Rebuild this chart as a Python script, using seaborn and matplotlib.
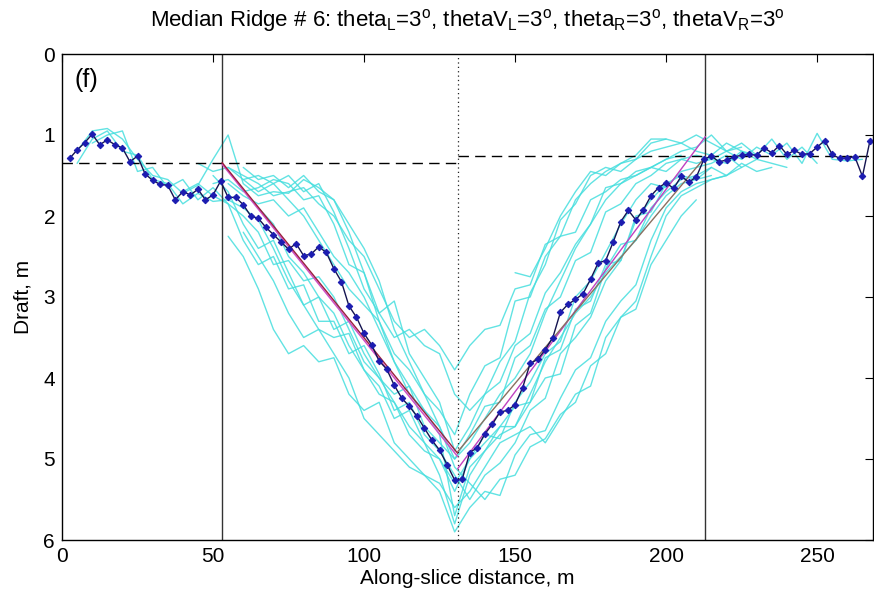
import numpy as np
import pandas as pd
import matplotlib
matplotlib.use("Agg")
import matplotlib.pyplot as plt
import seaborn as sns

# ---------------- data ----------------
median_x0 = 2.5
median_step = 2.5
median_draft = [
    1.29, 1.185, 1.095, 0.99, 1.12, 1.06, 1.12, 1.16, 1.33, 1.26,
    1.48, 1.56, 1.61, 1.62, 1.80, 1.70, 1.74, 1.67, 1.80, 1.74,
    1.57, 1.77, 1.77, 1.86, 2.00, 2.03, 2.14, 2.23, 2.32, 2.41,
    2.34, 2.49, 2.47, 2.38, 2.45, 2.65, 2.81, 3.11, 3.25, 3.45,
    3.59, 3.79, 3.89, 4.09, 4.25, 4.35, 4.47, 4.62, 4.77, 4.89,
    5.07, 5.26, 5.25, 4.92, 4.86, 4.69, 4.57, 4.42, 4.40, 4.33,
    4.12, 3.82, 3.77, 3.65, 3.50, 3.19, 3.09, 3.03, 2.96, 2.78,
    2.58, 2.55, 2.32, 2.07, 1.93, 2.05, 1.92, 1.75, 1.65, 1.59,
    1.66, 1.51, 1.58, 1.52, 1.30, 1.26, 1.33, 1.31, 1.27, 1.25,
    1.24, 1.25, 1.16, 1.22, 1.13, 1.24, 1.19, 1.24, 1.23, 1.15,
    1.07, 1.24, 1.29, 1.28, 1.27, 1.51, 1.07,
]

cyan_step = 5.0
cyan_starts = [5, 5, 10, 45, 55, 50, 50, 55, 55, 60, 60, 65, 215, 150, 40, 60]
cyan_1 = [1.20, 0.95, 0.92, 1.05, 1.30, 1.50, 1.55, 1.72, 1.62, 1.30, 1.00, 1.60, 1.75, 1.70,
          1.72, 1.55, 1.65, 1.80, 2.20, 2.70, 3.20, 3.05, 3.70, 4.00, 4.30, 4.90, 4.60, 4.20,
          4.05, 3.60, 3.45, 2.95, 2.70, 2.35, 2.10, 1.65, 1.60, 1.45, 1.40, 1.30, 1.20, 1.15,
          1.00, 1.20, 1.30, 1.15, 1.25, 1.10, 1.35, 0.98, 1.30, 1.32, 1.30]
cyan_2 = [1.35, 1.05, 0.95, 1.20, 1.25, 1.55, 1.60, 1.85, 1.72, 1.82, 1.80, 1.90, 2.05, 2.40,
          2.80, 3.10, 3.40, 3.50, 3.45, 3.90, 4.10, 4.50, 4.40, 4.80, 5.00, 5.40, 5.00, 4.70,
          4.75, 4.30, 4.05, 3.70, 3.55, 3.00, 2.80, 2.45, 2.10, 1.80, 1.60, 1.65, 1.45, 1.40,
          1.35, 1.25, 1.40, 1.30, 1.35, 1.40]
cyan_3 = [1.10, 1.00, 0.95, 1.45, 1.40, 1.65, 1.55, 1.80, 1.65, 1.85, 2.30, 2.60, 2.50, 2.90,
          2.85, 3.30, 3.30, 3.70, 3.60, 3.95, 4.40, 4.30, 4.70, 4.90, 5.20, 5.50, 5.20, 5.05,
          4.80, 4.40, 4.25, 3.70, 3.50, 3.25, 2.80, 2.55, 2.05, 1.80, 1.60, 1.50, 1.55, 1.40,
          1.50, 1.35, 1.45, 1.40]
cyan_4 = [1.35, 1.45, 1.40, 1.55, 1.50, 1.60, 1.50, 1.70, 1.60, 1.95, 2.40, 2.90, 3.20, 3.50,
          3.40, 3.60, 3.70, 4.20, 4.40, 4.20, 3.80, 3.55, 2.95, 2.60, 2.05, 1.85, 1.50, 1.40,
          1.45, 1.30, 1.20, 1.15, 1.10, 1.20, 1.25, 1.10, 1.20, 1.25]
cyan_5 = [2.25, 2.50, 2.90, 3.40, 3.70, 3.60, 3.80, 3.75, 4.20, 4.40, 4.30, 4.80, 5.00, 5.20,
          5.40, 5.90, 5.60, 5.40, 5.45, 4.95, 4.70, 4.65, 4.25, 3.90, 3.75, 3.30, 3.05, 2.85,
          2.30, 1.90, 1.70, 1.60, 1.55, 1.50, 1.40]
cyan_6 = [1.50, 1.70, 2.10, 2.40, 2.30, 2.70, 3.10, 3.00, 3.40, 3.30, 3.70, 4.00, 4.20, 4.10,
          4.60, 4.80, 5.00, 4.70, 4.35, 4.30, 3.75, 3.60, 3.15, 3.00, 2.55, 2.45, 1.95, 1.85,
          1.60, 1.50, 1.35, 1.30, 1.25, 1.30, 1.35, 1.20, 1.30]
cyan_7 = [1.60, 1.55, 1.70, 1.65, 1.55, 1.60, 1.80, 1.75, 2.10, 2.60, 2.70, 3.30, 3.80, 4.10,
          4.40, 4.60, 5.10, 5.30, 5.50, 5.25, 5.20, 4.85, 4.75, 4.45, 4.30, 3.85, 3.70, 3.25,
          3.05, 2.50, 2.00, 1.75, 1.65, 1.55, 1.50]
cyan_8 = [1.60, 1.75, 1.85, 1.80, 2.00, 1.90, 2.20, 2.50, 2.70, 3.00, 3.40, 3.80, 4.20, 4.40,
          4.70, 5.70, 5.10, 4.90, 4.60, 4.60, 4.30, 4.00, 3.95, 3.35, 3.20, 2.65, 2.35, 2.30,
          1.90, 1.70, 1.55, 1.50, 1.40]
cyan_9 = [1.40, 1.50, 1.60, 1.75, 1.70, 1.65, 1.85, 2.00, 2.30, 2.50, 2.90, 3.30, 3.50, 3.40,
          3.60, 3.90, 3.60, 3.40, 3.35, 2.90, 2.85, 2.35, 2.25, 1.80, 1.60, 1.45, 1.35, 1.30,
          1.10, 1.05, 1.10, 1.00, 1.10, 1.20, 1.15]
cyan_10 = [2.20, 2.50, 2.80, 3.20, 3.50, 3.40, 3.70, 4.00, 4.50, 4.70, 4.90, 5.10, 5.20, 5.30,
           5.60, 5.40, 5.10, 4.80, 4.70, 4.60, 4.80, 4.50, 4.20, 4.10, 3.50, 3.25, 3.15, 2.60,
           2.30, 2.00, 1.80]
cyan_11 = [1.55, 1.70, 1.60, 1.80, 2.00, 2.30, 2.60, 2.90, 3.10, 3.30, 3.70, 3.90, 4.20, 4.40,
           4.70, 4.20, 3.85, 3.75, 3.05, 3.00, 2.50, 2.25, 2.20, 1.80, 1.70, 1.55, 1.50, 1.40,
           1.45, 1.30, 1.35, 1.30]
cyan_12 = [1.90, 2.10, 2.50, 2.70, 3.00, 3.20, 3.60, 3.90, 4.20, 4.30, 4.70, 4.90, 5.00, 5.30,
           5.00, 4.80, 4.60, 4.35, 4.30, 3.75, 3.65, 3.15, 3.05, 2.60, 2.55, 2.00, 1.95, 1.60]
cyan_13 = [1.30, 1.20, 1.10, 1.25, 1.05, 1.30, 1.15, 1.35]
cyan_14 = [2.70, 2.75, 2.40, 2.00, 1.70, 1.45, 1.50, 1.35, 1.25, 1.05, 1.05]
cyan_15 = [1.70, 1.60, 1.75, 1.85, 2.00, 2.20, 2.60, 2.55, 2.80, 2.75, 3.00, 3.40, 3.80, 4.00,
           4.30, 4.60, 4.80, 5.20, 5.80, 5.20, 4.90, 4.70, 4.60, 4.20, 3.80, 3.50, 3.20, 3.00,
           2.70, 2.50, 2.30, 2.00, 1.75, 1.60, 1.55, 1.50]
cyan_16 = [1.40, 1.55, 1.50, 1.65, 1.50, 1.70, 1.80, 2.10, 2.40, 2.80, 3.40, 3.80, 4.20, 4.60,
           5.00, 4.80, 4.50, 4.20, 4.00, 3.70, 3.20, 2.80, 2.40, 2.10, 1.80, 1.60, 1.50, 1.40,
           1.30, 1.25]
cyan_profiles = [cyan_1, cyan_2, cyan_3, cyan_4, cyan_5, cyan_6, cyan_7, cyan_8,
                 cyan_9, cyan_10, cyan_11, cyan_12, cyan_13, cyan_14, cyan_15, cyan_16]

crest_left_x = 53.0
crest_right_x = 213.0
keel_x = 131.0
level_left = 1.34
level_right = 1.26
fit_left_x = [53.0, 131.0]
fit_left_y = [1.34, 4.93]
fit_left2_y = [1.36, 4.97]
fit_right_x = [131.0, 213.0]
fit_right_y = [4.91, 1.27]
fit_right2_y = [5.12, 1.02]

x_max = 268.5
x_ticks = [0, 50, 100, 150, 200, 250]
y_ticks = [0, 1, 2, 3, 4, 5, 6]

# ---------------- style ----------------
sns.set_theme(style="white")
plt.rcParams["font.family"] = ["Liberation Sans", "DejaVu Sans"]
plt.rcParams["mathtext.fontset"] = "custom"
plt.rcParams["mathtext.rm"] = "Liberation Sans"
plt.rcParams["mathtext.it"] = "Liberation Sans"
plt.rcParams["text.color"] = "black"
plt.rcParams["axes.labelcolor"] = "black"

fig = plt.figure(figsize=(8.74, 5.91), dpi=100)
ax = fig.add_axes([62 / 874, 1 - 540 / 591, (873 - 62) / 874, (540 - 54) / 591])

# cyan individual profiles
rows = []
for i, (x0, vals) in enumerate(zip(cyan_starts, cyan_profiles)):
    for j, v in enumerate(vals):
        rows.append({"profile": i, "x": x0 + cyan_step * j, "draft": v})
cyan_df = pd.DataFrame(rows)
sns.lineplot(data=cyan_df, x="x", y="draft", units="profile", estimator=None,
             color="#46dede", lw=1.0, alpha=0.85, sort=False, ax=ax, legend=False)

# level lines and vertical markers
ax.plot([0, keel_x], [level_left, level_left], color="black", lw=1.0, dashes=(7.5, 4.5))
ax.plot([keel_x, x_max], [level_right, level_right], color="black", lw=1.0, dashes=(7.5, 4.5))
ax.axvline(crest_left_x, color="#333333", lw=1.0)
ax.axvline(crest_right_x, color="#333333", lw=1.0)
ax.axvline(keel_x, color="#222222", lw=0.9, ls=(0, (1, 2.5)))

# fitted slope lines
sns.lineplot(x=fit_left_x, y=fit_left2_y, color="#d050c8", lw=1.1, ax=ax)
sns.lineplot(x=fit_left_x, y=fit_left_y, color="#9a1f3c", lw=1.0, ax=ax)
sns.lineplot(x=fit_right_x, y=fit_right2_y, color="#c040c0", lw=1.0, ax=ax)
sns.lineplot(x=fit_right_x, y=fit_right_y, color="#8a7060", lw=1.0, ax=ax)

# median profile
med_x = median_x0 + median_step * np.arange(len(median_draft))
sns.lineplot(x=med_x, y=median_draft, color="#141450", lw=1.0, marker="D",
             markersize=3.3, markerfacecolor="#1c1cb0", markeredgecolor="#1c1cb0",
             sort=False, ax=ax)

ax.set_xlim(0, x_max)
ax.set_ylim(6, 0)
ax.set_xticks(x_ticks)
ax.set_yticks(y_ticks)
ax.tick_params(direction="in", length=6, width=0.8, top=True, right=True,
               labelsize=15, colors="black", pad=5)
for s in ax.spines.values():
    s.set_color("black")
    s.set_linewidth(1.0)
    s.set_visible(True)

ax.set_xlabel("Along-slice distance, m", fontsize=15, labelpad=2)
ax.set_ylabel("Draft, m", fontsize=15, labelpad=8)
ax.set_title(r"Median Ridge # 6: theta$_\mathrm{L}$=3$^\mathrm{o}$, thetaV$_\mathrm{L}$=3$^\mathrm{o}$, "
             r"theta$_\mathrm{R}$=3$^\mathrm{o}$, thetaV$_\mathrm{R}$=3$^\mathrm{o}$",
             fontsize=16, pad=20, color="black")
ax.text(4, 0.32, "(f)", fontsize=18, ha="left", va="center")

fig.savefig("out.png", dpi=100)
